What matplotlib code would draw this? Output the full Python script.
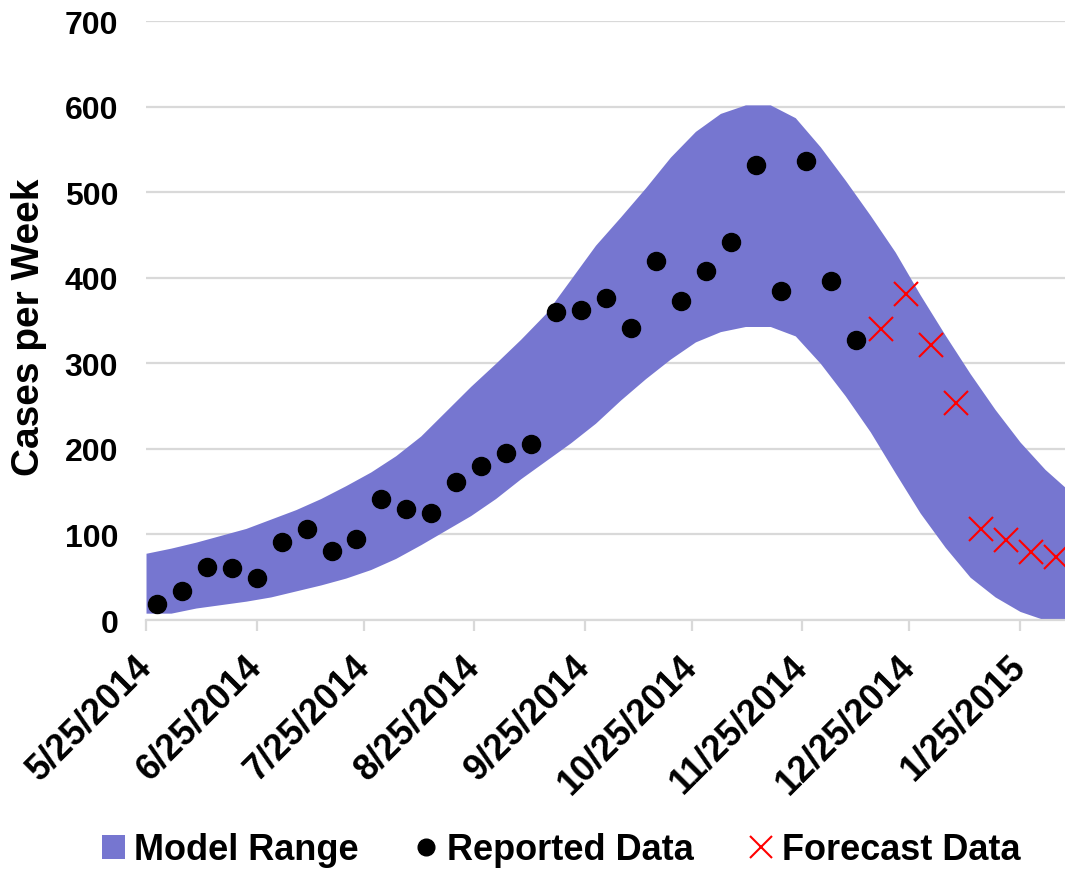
import numpy as np
import pandas as pd
import matplotlib
matplotlib.use("Agg")
import matplotlib.pyplot as plt
import matplotlib.dates as mdates
from matplotlib.patches import Patch
from matplotlib.lines import Line2D

plt.rcParams['font.family'] = ['Liberation Sans', 'DejaVu Sans']
plt.rcParams['font.weight'] = 'bold'

# model range band, weekly from 5/25/2014
band_dates = pd.date_range('2014-05-25', periods=38, freq='7D')
band_upper = [78, 84, 91, 99, 107, 118, 129, 142, 157, 173, 192, 215, 244, 273,
              300, 328, 358, 398, 438, 471, 505, 541, 571, 592, 602, 602, 587,
              553, 514, 473, 430, 380, 333, 288, 246, 208, 176, 150]
band_lower = [8, 8, 14, 18, 22, 27, 34, 41, 49, 59, 72, 88, 105, 122, 142, 165,
              186, 207, 230, 257, 282, 305, 325, 337, 343, 343, 332, 300, 262,
              220, 172, 125, 85, 50, 27, 10, 0, 0]

# reported weekly cases
reported_dates = pd.date_range('2014-05-28', periods=29, freq='7D')
reported = [19, 34, 62, 61, 49, 91, 106, 81, 95, 141, 130, 125, 161, 180, 195,
            206, 360, 362, 376, 341, 419, 373, 408, 442, 532, 384, 536, 396, 327]

# forecast
forecast_dates = pd.date_range('2014-12-17', periods=8, freq='7D')
forecast = [340, 381, 321, 254, 106, 93, 79, 74]

tick_dates = pd.date_range('2014-05-01', '2015-01-01', freq='MS') + pd.Timedelta(days=24)
tick_labels = [f"{d.month}/{d.day}/{d.year}" for d in tick_dates]

band_color = '#7676d0'
grid_color = '#d9d9d9'

fig = plt.figure(figsize=(10.65, 8.7), dpi=100)
ax = fig.add_axes([0.1371, 0.2862, 0.8629, 0.6885])

ax.fill_between(band_dates, band_lower, band_upper, color=band_color,
                linewidth=0, zorder=2)
ax.plot(reported_dates, reported, 'o', color='black', markersize=13, zorder=3)
ax.plot(forecast_dates, forecast, 'x', color='red', markersize=17,
        markeredgewidth=1.5, zorder=4)

x0 = mdates.date2num(pd.Timestamp('2014-05-25'))
ax.set_xlim(x0, x0 + 257.6)
ax.set_ylim(0, 700)
ax.set_yticks(range(0, 701, 100))
ax.yaxis.grid(True, color=grid_color, linewidth=1.6)
ax.set_axisbelow(True)

ax.set_xticks(tick_dates)
ax.set_xticklabels(tick_labels, rotation=45, ha='right', va='center',
                   rotation_mode='anchor')

for s in ['top', 'right', 'left']:
    ax.spines[s].set_visible(False)
ax.spines['bottom'].set_color(grid_color)
ax.spines['bottom'].set_linewidth(1.6)

ax.tick_params(axis='y', length=0, pad=20, labelsize=23)
ax.tick_params(axis='x', length=8, width=1.6, color=grid_color, pad=21,
               labelsize=26)

fig.text(29 / 1065, 1 - 327 / 870, 'Cases per Week', rotation=90,
         ha='center', va='center', fontsize=28, fontweight='bold')

handles = [Patch(facecolor=band_color, edgecolor='none'),
           Line2D([], [], marker='o', color='black', linestyle='none',
                  markersize=12),
           Line2D([], [], marker='x', color='red', linestyle='none',
                  markersize=16, markeredgewidth=1.5)]
fig.legend(handles, ['Model Range', 'Reported Data', 'Forecast Data'],
           loc='center', bbox_to_anchor=(0.527, 0.022), ncol=3, frameon=False,
           prop={'size': 26, 'weight': 'bold'}, handlelength=0.64,
           handleheight=0.64, handletextpad=0.25, columnspacing=1.55,
           borderaxespad=0, borderpad=0)

fig.savefig('out.png', dpi=100)
